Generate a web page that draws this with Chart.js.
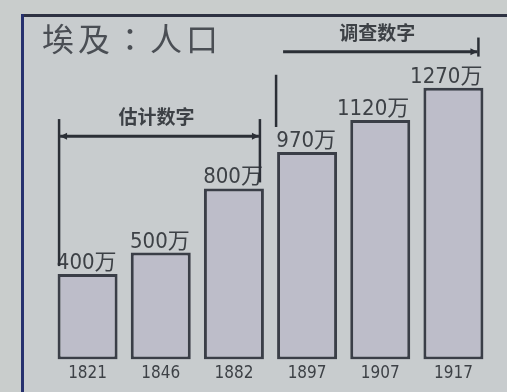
<!DOCTYPE html>
<html>
<head>
<meta charset="utf-8">
<script src="https://cdn.jsdelivr.net/npm/chart.js@4/dist/chart.umd.min.js"></script>
<style>
  html, body { margin: 0; padding: 0; background: #c9cdcc; }
  canvas { display: block; }
</style>
</head>
<body>
<canvas id="c" width="507" height="392"></canvas>
<script>
// ---- data ----
const categories = ['1821', '1846', '1882', '1897', '1907', '1917'];
const population = [400, 500, 800, 970, 1120, 1270];   // 万
const valueLabels = ['400万', '500万', '800万', '970万', '1120万', '1270万'];
const chartTitle = '埃及：人口';
const groupNames = ['估计数字', '调查数字'];
const groupRanges = [[0, 2], [3, 5]];

const NARROW = '"Liberation Sans Narrow", "DejaVu Sans Condensed", "Noto Sans CJK SC", sans-serif';
const CJK = '"Noto Sans CJK SC", sans-serif';

const decor = {
  id: 'decor',
  beforeDraw(chart) {
    const ctx = chart.ctx;
    ctx.save();
    ctx.fillStyle = '#c9cdcc';
    ctx.fillRect(0, 0, chart.width, chart.height);
    ctx.fillStyle = '#c8ccce';
    ctx.fillRect(23, 16, chart.width - 23, chart.height - 16);
    // frame
    ctx.fillStyle = '#2e3242';
    ctx.fillRect(21, 14, chart.width - 21, 3);
    ctx.fillStyle = '#26306e';
    ctx.fillRect(21, 14, 3, chart.height - 14);
    // title
    ctx.fillStyle = '#4a4e54';
    ctx.font = '32px "Noto Sans CJK TC", "Noto Sans CJK SC", sans-serif';
    ctx.letterSpacing = '4px';
    ctx.textBaseline = 'top';
    ctx.textAlign = 'left';
    ctx.fillText(chartTitle, 42, 23);
    ctx.letterSpacing = '0px';
    ctx.restore();
  },
  afterDatasetsDraw(chart) {
    const ctx = chart.ctx;
    const meta = chart.getDatasetMeta(0);
    const y = chart.scales.y;
    ctx.save();
    // value labels
    ctx.fillStyle = '#3d4146';
    ctx.font = '22px ' + NARROW;
    ctx.textAlign = 'right';
    ctx.textBaseline = 'alphabetic';
    meta.data.forEach((bar, i) => {
      const right = bar.x + bar.width / 2;
      ctx.fillText(valueLabels[i], right - 1, bar.y - 5);
    });

    const line = (x1, y1, x2, y2) => {
      ctx.beginPath(); ctx.moveTo(x1, y1); ctx.lineTo(x2, y2); ctx.stroke();
    };
    const arrow = (x, yy, dir) => {
      ctx.beginPath();
      ctx.moveTo(x, yy);
      ctx.lineTo(x - dir * 7, yy - 3.5);
      ctx.lineTo(x - dir * 7, yy + 3.5);
      ctx.closePath();
      ctx.fill();
    };
    ctx.strokeStyle = '#2b2f36';
    ctx.fillStyle = '#2b2f36';
    ctx.lineWidth = 3;

    // estimated bracket
    const b0 = meta.data[groupRanges[0][0]], b2 = meta.data[groupRanges[0][1]];
    const ex1 = b0.x - b0.width / 2 + 1.5;
    const ex2 = b2.x + b2.width / 2 - 4;
    const ey = y.getPixelForValue(1044);
    line(ex1 + 1, ey, ex2 - 1, ey);
    arrow(ex1 + 1, ey, -1);
    arrow(ex2 - 1, ey, 1);
    ctx.lineWidth = 2.5;
    line(ex1, y.getPixelForValue(1124), ex1, y.getPixelForValue(437));
    line(ex2, y.getPixelForValue(1124), ex2, y.getPixelForValue(828));

    // survey bracket
    const b3 = meta.data[groupRanges[1][0]], b5 = meta.data[groupRanges[1][1]];
    const sx0 = b3.x - b3.width / 2 - 1;
    const sx1 = sx0 + 7;
    const sx2 = b5.x + b5.width / 2 - 5;
    const sy = y.getPixelForValue(1439);
    ctx.lineWidth = 3;
    line(sx1, sy, sx2 - 1, sy);
    arrow(sx2 - 1, sy, 1);
    ctx.lineWidth = 2.5;
    line(sx2, y.getPixelForValue(1505), sx2, y.getPixelForValue(1416));
    line(sx0, y.getPixelForValue(1331), sx0, y.getPixelForValue(1087));

    // group names
    ctx.fillStyle = '#3d4146';
    ctx.font = 'bold 19px ' + CJK;
    ctx.textAlign = 'center';
    ctx.textBaseline = 'middle';
    ctx.fillText(groupNames[0], (ex1 + ex2) / 2 - 3, y.getPixelForValue(1134));
    ctx.fillText(groupNames[1], (sx0 + sx2) / 2, y.getPixelForValue(1529));
    ctx.restore();
  }
};

new Chart(document.getElementById('c'), {
  type: 'bar',
  data: {
    labels: categories,
    datasets: [{
      data: population,
      backgroundColor: '#bdbdc9',
      borderColor: '#3a3e47',
      borderWidth: 3,
      borderSkipped: false,
      categoryPercentage: 1,
      barPercentage: 0.82
    }]
  },
  options: {
    responsive: false,
    animation: false,
    events: [],
    layout: { padding: { left: 51, right: 17, top: 60, bottom: 4 } },
    plugins: { legend: { display: false }, tooltip: { enabled: false }, title: { display: false } },
    scales: {
      y: { display: false, min: 0, max: 1400 },
      x: {
        grid: { display: false, drawTicks: false },
        border: { display: false },
        ticks: { color: '#3d4146', padding: 4, font: { family: NARROW, size: 17 } }
      }
    }
  },
  plugins: [decor]
});
</script>
</body>
</html>
